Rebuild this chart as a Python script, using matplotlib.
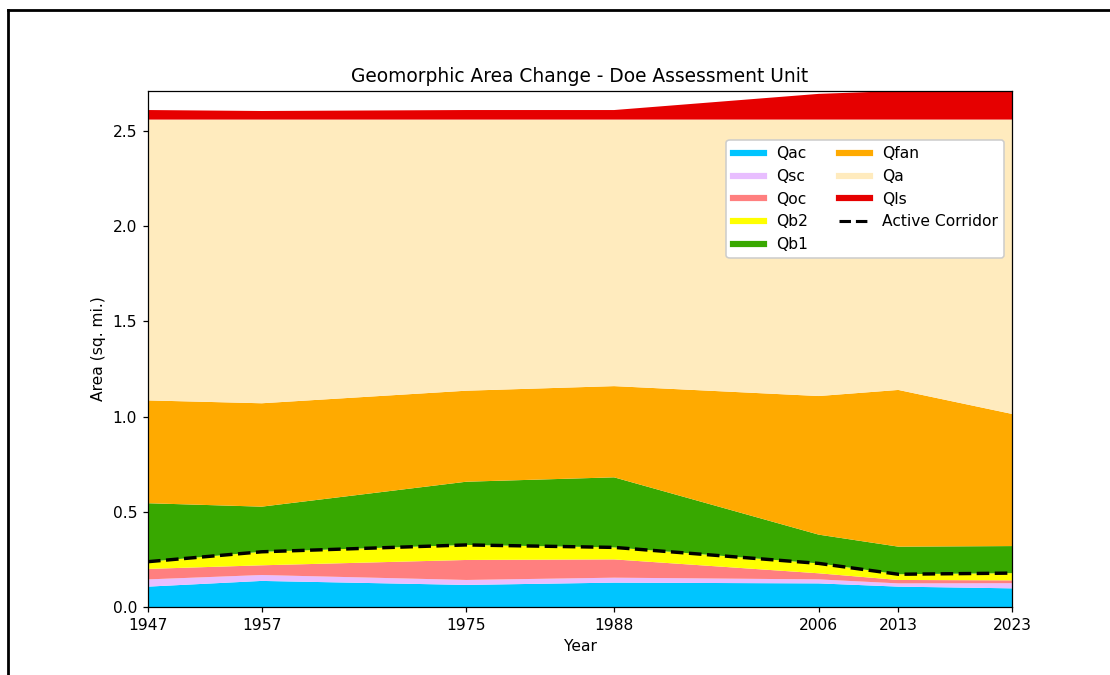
import numpy as np
import matplotlib
matplotlib.use("Agg")
import matplotlib.pyplot as plt
from matplotlib.lines import Line2D

# Survey years
years = [1947, 1957, 1975, 1988, 2006, 2013, 2023]

# Area per geomorphic unit (sq. mi.)
qac = [0.107, 0.137, 0.116, 0.128, 0.124, 0.107, 0.098]
qsc = [0.038, 0.031, 0.026, 0.026, 0.021, 0.017, 0.027]
qoc = [0.055, 0.051, 0.105, 0.096, 0.032, 0.018, 0.015]
qb2 = [0.038, 0.071, 0.079, 0.063, 0.052, 0.030, 0.038]
qb1 = [0.307, 0.237, 0.332, 0.368, 0.151, 0.145, 0.142]
qfan = [0.540, 0.543, 0.478, 0.479, 0.728, 0.823, 0.694]
qa = [1.475, 1.490, 1.424, 1.400, 1.452, 1.420, 1.546]
qls = [0.050, 0.045, 0.050, 0.050, 0.135, 0.150, 0.150]

units = ["Qac", "Qsc", "Qoc", "Qb2", "Qb1", "Qfan", "Qa", "Qls"]
colors = ["#00c5ff", "#e8beff", "#ff7f7f", "#ffff00", "#38a800",
          "#ffaa00", "#ffebbe", "#e60000"]
layers = [qac, qsc, qoc, qb2, qb1, qfan, qa, qls]

# active corridor = top of Qb2
corridor = np.sum([qac, qsc, qoc, qb2], axis=0)

DPI = 111.5
W, H = 1110, 675
fig = plt.figure(figsize=(W / DPI, H / DPI), dpi=DPI)
ax = fig.add_axes([148 / W, (H - 607) / H, 864 / W, 516 / H])

ax.stackplot(years, *layers, colors=colors)
ax.plot(years, corridor, "k--", lw=2.2)

total = np.sum(layers, axis=0)
ax.set_xlim(years[0], years[-1])
ax.set_ylim(0, total.max())
ax.set_xticks(years)
ax.set_xlabel("Year")
ax.set_ylabel("Area (sq. mi.)")
ax.set_title("Geomorphic Area Change - Doe Assessment Unit")

handles = [Line2D([], [], color=c, lw=4) for c in colors]
handles.append(Line2D([], [], color="k", ls="--", lw=2))
labels = units + ["Active Corridor"]
ax.legend(handles, labels, ncol=2, loc="upper right",
          bbox_to_anchor=(1.0, 0.92), framealpha=1)

# figure border (screenshot frame)
fig.add_artist(Line2D([8 / W, 1.0], [1 - 10 / H, 1 - 10 / H],
                      transform=fig.transFigure, color="k", lw=1.8))
fig.add_artist(Line2D([8 / W, 8 / W], [1 - 10 / H, 0.0],
                      transform=fig.transFigure, color="k", lw=1.8))

fig.savefig("out.png", dpi=DPI)
